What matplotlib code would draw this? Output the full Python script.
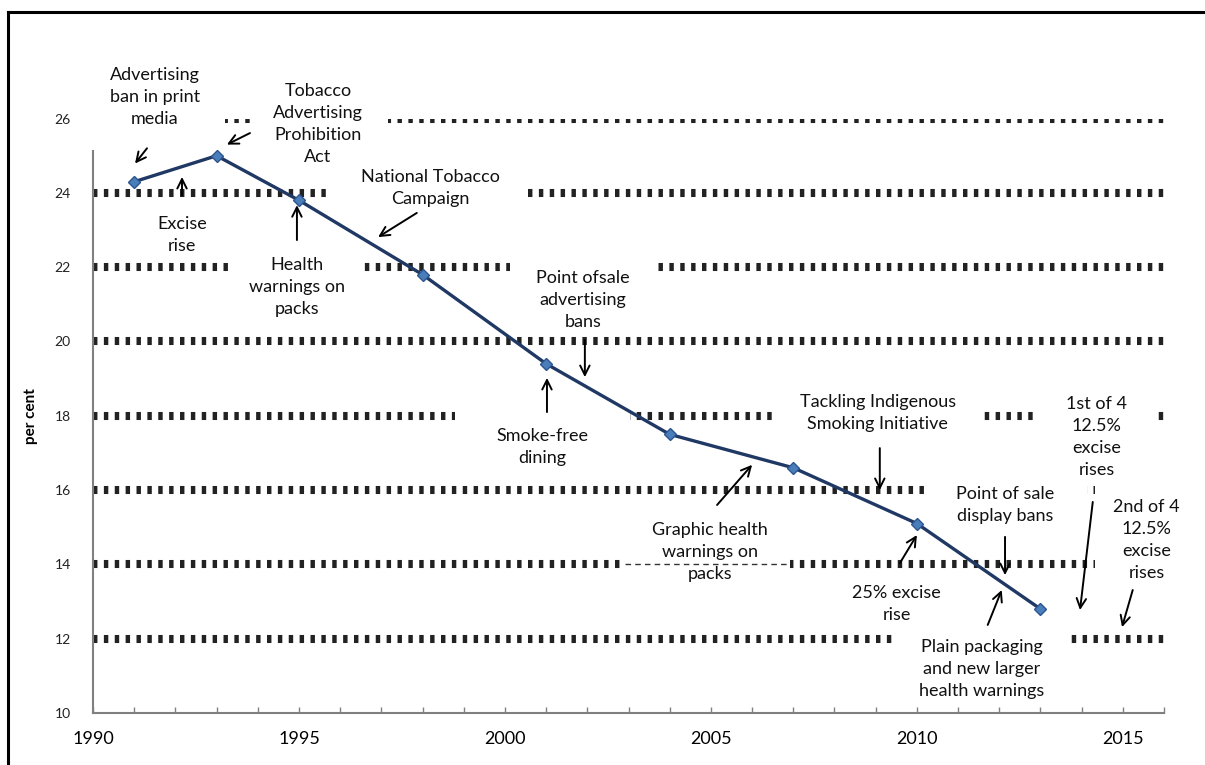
import matplotlib
matplotlib.use('Agg')
import matplotlib.pyplot as plt
from matplotlib.patches import Rectangle
from matplotlib.lines import Line2D

plt.rcParams['font.family'] = ['Lato', 'DejaVu Sans']

# Smoking prevalence, per cent
years = [1991, 1993, 1995, 1998, 2001, 2004, 2007, 2010, 2013]
rates = [24.3, 25.0, 23.8, 21.8, 19.4, 17.5, 16.6, 15.1, 12.8]

x_ticks = [1990, 1995, 2000, 2005, 2010, 2015]
y_ticks = [10, 12, 14, 16, 18, 20, 22, 24, 26]

# policy events: label, text centre, arrow tail, arrow head, white box (x0, x1, y0, y1)
event_labels = [
    'Advertising\nban in print\nmedia',
    'Tobacco\nAdvertising\nProhibition\nAct',
    'Excise\nrise',
    'Health\nwarnings on\npacks',
    'National Tobacco\nCampaign',
    'Point ofsale\nadvertising\nbans',
    'Smoke-free\ndining',
    'Graphic health\nwarnings on\npacks',
    'Tackling Indigenous\nSmoking Initiative',
    'Point of sale\ndisplay bans',
    '25% excise\nrise',
    'Plain packaging\nand new larger\nhealth warnings',
    '1st of 4\n12.5%\nexcise\nrises',
    '2nd of 4\n12.5%\nexcise\nrises',
]
event_pos = [(1991.5, 26.58), (1995.46, 25.85), (1992.16, 22.87), (1994.95, 21.47),
             (1998.18, 24.13), (2001.89, 21.12), (2000.9, 17.16), (2004.98, 14.33),
             (2009.05, 18.08), (2012.14, 15.6), (2009.51, 12.93), (2011.58, 11.18),
             (2014.37, 17.43), (2015.58, 14.66)]
arrow_tail = [(1991.31, 25.2), (1993.81, 25.61), (1992.16, 23.94), (1994.95, 22.73),
              (1997.86, 23.46), (2001.94, 20.04), (2001.02, 18.1), (2005.15, 15.6),
              (2009.1, 17.13), (2012.14, 14.74), (2009.59, 14.04), (2011.72, 12.37),
              (2014.27, 15.68), (2015.24, 13.31)]
arrow_head = [(1991.02, 24.79), (1993.25, 25.3), (1992.16, 24.43), (1994.95, 23.67),
              (1996.92, 22.81), (2001.94, 19.04), (2001.02, 19.02), (2006.0, 16.68),
              (2009.1, 16.0), (2012.14, 13.71), (2010.0, 14.79), (2012.06, 13.31),
              (2013.96, 12.77), (2014.98, 12.31)]
event_box = [(1989.7, 1993.2, 25.15, 27.5), (1993.87, 1997.16, 24.56, 27.5), None,
             (1993.28, 1996.53, 20.44, 22.7), (1995.75, 2000.44, 23.4, 24.9),
             (2000.12, 2003.64, 20.2, 22.3), (1998.79, 2003.03, 16.4, 18.3),
             (2002.91, 2006.92, 13.4, 15.4), (2006.48, 2011.58, 17.3, 18.8),
             (2010.24, 2014.13, 14.8, 16.5), None, (2009.42, 2013.71, 10.2, 12.3),
             (2012.94, 2015.78, 16.15, 18.8), (2014.32, 2016.6, 13.2, 16.3)]

fig = plt.figure(figsize=(12.05, 7.65), dpi=100)
ax = fig.add_axes([0.0772, 0.068, 0.8888, 0.777])

ax.set_xlim(1990, 2016)
ax.set_ylim(10, 26)

# thick square-dotted gridlines (none on the x axis itself)
for level in y_ticks[1:]:
    ax.axhline(level, color='#222222', linewidth=5.8, linestyle=(0, (0.55, 0.8)), zorder=1)

for box in event_box:
    if box is None:
        continue
    ax.add_patch(Rectangle((box[0], box[2]), box[1] - box[0], box[3] - box[2],
                           facecolor='white', edgecolor='none', zorder=3, clip_on=False))

# gridline shows faintly through the graphic warnings box
gb = event_box[7]
ax.plot([gb[0], gb[1]], [14, 14], color='#333333', linewidth=1.0,
        linestyle=(0, (4, 3)), zorder=3.5)

ax.plot(years, rates, color='#1f3864', linewidth=2.4, marker='D', markersize=6.5,
        markerfacecolor='#4a7ebb', markeredgecolor='#2c5590', zorder=4)

for label, pos, tail, head in zip(event_labels, event_pos, arrow_tail, arrow_head):
    ax.text(pos[0], pos[1], label, ha='center', va='center', multialignment='center',
            fontsize=13, color='#111111', linespacing=1.45, zorder=6)
    ax.annotate('', xy=head, xytext=tail,
                arrowprops=dict(arrowstyle='->', color='black', lw=1.4,
                                mutation_scale=17, shrinkA=0, shrinkB=0),
                zorder=5, annotation_clip=False)

ax.set_xticks(x_ticks)
ax.set_xticks(range(1990, 2017), minor=True)
ax.set_yticks(y_ticks)
ax.tick_params(axis='x', which='both', direction='in', length=4, width=1,
               color='#808080', labelsize=13, pad=13)
ax.tick_params(axis='y', length=0, labelsize=10, labelcolor='#222222', pad=16)

for side in ['top', 'right']:
    ax.spines[side].set_visible(False)
for side in ['left', 'bottom']:
    ax.spines[side].set_color('#808080')
    ax.spines[side].set_linewidth(1.5)

ax.set_ylabel('per cent', fontsize=11, fontweight='bold', labelpad=12)

# black frame on top and left edge of the picture
fig.add_artist(Line2D([8 / 1205, 1], [1 - 12 / 765, 1 - 12 / 765], color='black', linewidth=2.2))
fig.add_artist(Line2D([8 / 1205, 8 / 1205], [0, 1 - 12 / 765], color='black', linewidth=2.2))

fig.savefig('out.png', dpi=100)
